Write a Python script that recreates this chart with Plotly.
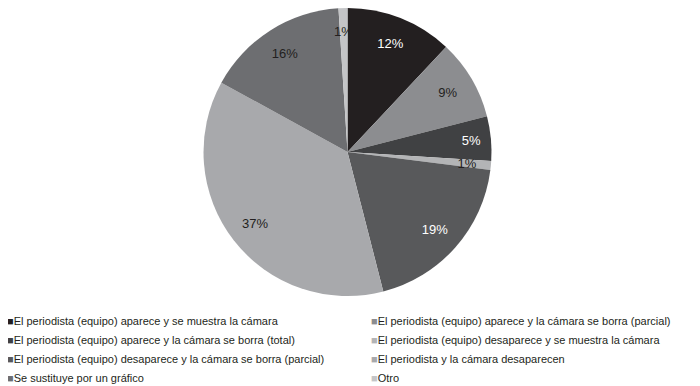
import plotly.graph_objects as go

categories = [
    "El periodista (equipo) aparece y se muestra la cámara",
    "El periodista (equipo) aparece y la cámara se borra (parcial)",
    "El periodista (equipo) aparece y la cámara se borra (total)",
    "El periodista (equipo) desaparece y se muestra la cámara",
    "El periodista (equipo) desaparece y la cámara se borra (parcial)",
    "El periodista y la cámara desaparecen",
    "Se sustituye por un gráfico",
    "Otro",
]
values = [12, 9, 5, 1, 19, 37, 16, 1]
labels_text = ["12%", "9%", "5%", "1%", "19%", "37%", "16%", "1%"]

colors = ["#231f20", "#8c8d90", "#404143", "#b3b4b6", "#58595b", "#a8a9ac", "#6d6e71", "#c4c5c7"]
text_colors = ["#ffffff", "#231f20", "#ffffff", "#231f20", "#ffffff", "#231f20", "#231f20", "#231f20"]

W, H = 700, 386
FONT = "Liberation Sans, Arial, sans-serif"

# main pie domain
dom_x = [0.2757, 0.6943]
dom_y = [0.2539, 1.0]
domain = dict(x=dom_x, y=dom_y)

# smaller concentric domain used only to place labels of very thin slices
cx, cy = (dom_x[0] + dom_x[1]) / 2 * W, (dom_y[0] + dom_y[1]) / 2 * H
R = min((dom_x[1] - dom_x[0]) * W, (dom_y[1] - dom_y[0]) * H) / 2
k = 0.86
small_domain = dict(x=[(cx - k * R) / W, (cx + k * R) / W],
                    y=[(cy - k * R) / H, (cy + k * R) / H])

thin = [v <= 1 for v in values]
big_text = [("" if t else s) for s, t in zip(labels_text, thin)]
thin_text = [(s if t else "") for s, t in zip(labels_text, thin)]
transparent = ["rgba(0,0,0,0)"] * len(values)

fig = go.Figure()
fig.add_trace(go.Pie(
    labels=categories, values=values, sort=False, direction="clockwise",
    rotation=0, marker=dict(colors=colors, line=dict(width=0)),
    textinfo="none", domain=domain, hoverinfo="label+value", showlegend=False,
))
fig.add_trace(go.Pie(
    labels=categories, values=values, sort=False, direction="clockwise",
    rotation=0, hole=0.62, showlegend=False,
    marker=dict(colors=transparent, line=dict(width=0)),
    text=big_text, textinfo="text", textposition="inside",
    insidetextorientation="horizontal",
    textfont=dict(color=text_colors, size=13, family=FONT),
    domain=domain, hoverinfo="skip",
))
fig.add_trace(go.Pie(
    labels=categories, values=values, sort=False, direction="clockwise",
    rotation=0, showlegend=False,
    marker=dict(colors=transparent, line=dict(width=0)),
    text=thin_text, textinfo="text", textposition="inside",
    insidetextorientation="horizontal",
    textfont=dict(color=text_colors, size=13, family=FONT),
    domain=small_domain, hoverinfo="skip",
))

# legend entries (colored square glyph + category name), two columns
for i, (cat, col) in enumerate(zip(categories, colors)):
    fig.add_trace(go.Scatter(
        x=[None], y=[None], mode="none", showlegend=True,
        name=f'<span style="color:{col}">■</span>{cat}',
        legend="legend" if i % 2 == 0 else "legend2",
        hoverinfo="skip",
    ))

fig.update_xaxes(visible=False)
fig.update_yaxes(visible=False)

legend_common = dict(
    orientation="v", yanchor="top", xanchor="left", traceorder="normal",
    itemclick=False, tracegroupgap=0, bgcolor="rgba(0,0,0,0)",
    font=dict(size=11, color="#231f20"),
)

fig.update_layout(
    width=W, height=H,
    margin=dict(l=0, r=0, t=0, b=0, autoexpand=False),
    paper_bgcolor="white", plot_bgcolor="white",
    font=dict(family=FONT, color="#231f20", size=11),
    uniformtext=dict(minsize=13, mode="show"),
    legend=dict(x=-0.0586, y=0.2267, **legend_common),
    legend2=dict(x=0.4614, y=0.2267, **legend_common),
)

fig.write_html("out.html")
